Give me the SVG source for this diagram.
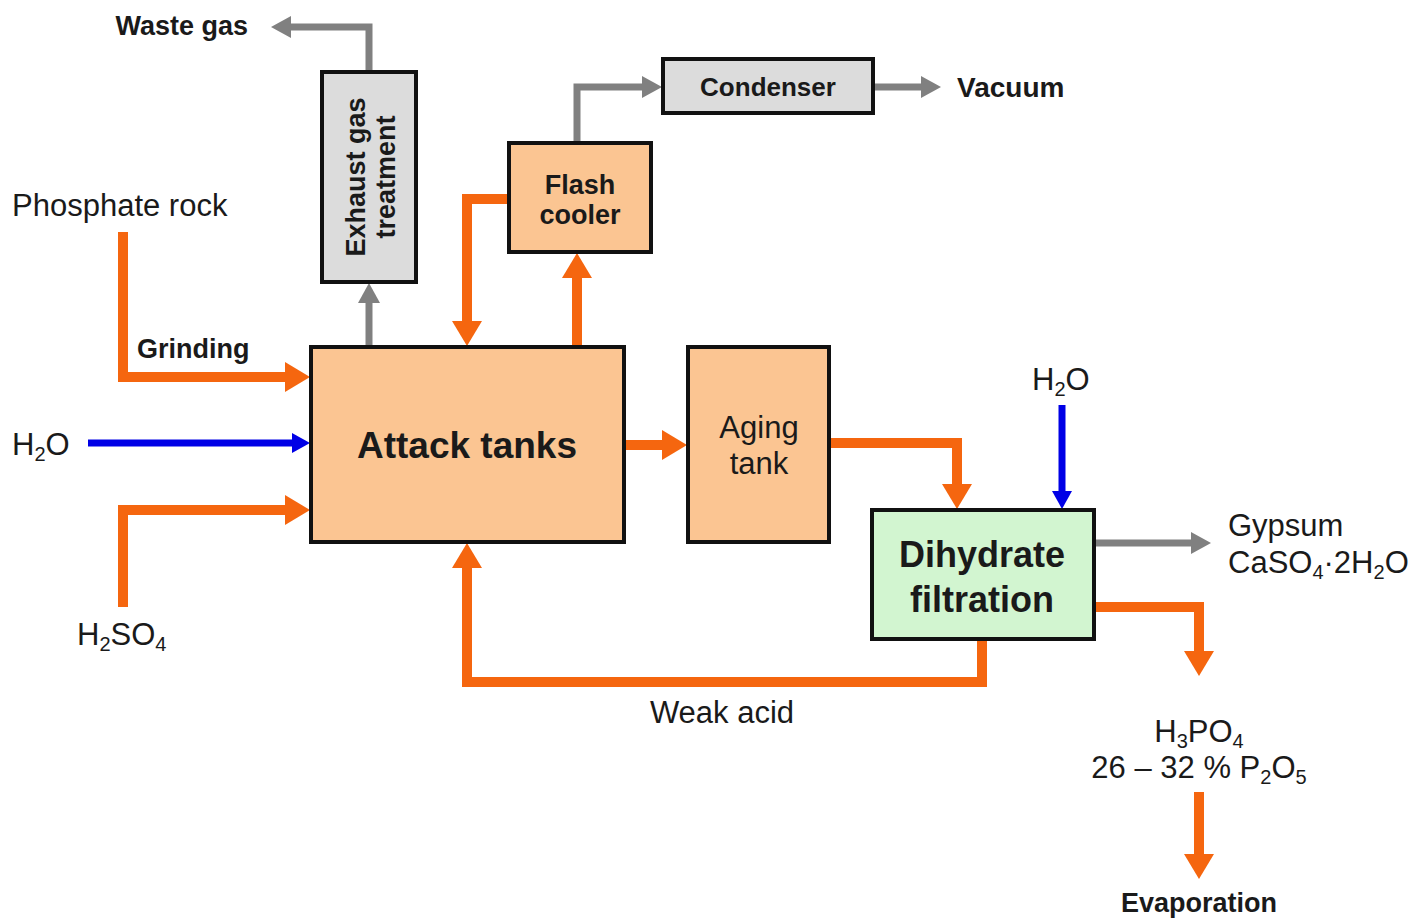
<svg xmlns="http://www.w3.org/2000/svg" width="1418" height="918" viewBox="0 0 1418 918">
<style>
.box{stroke:#111;stroke-width:4}
.peach{fill:#fbc592}
.grey{fill:#dcdcdc}
.green{fill:#d2f5d0}
.o{fill:none;stroke:#f5660f;stroke-width:10}
.g{fill:none;stroke:#808080;stroke-width:7}
.b{fill:none;stroke:#0000e6;stroke-width:7}
text{font-family:"Liberation Sans",Arial,sans-serif;fill:#1a1a1a}
.bd{font-weight:bold}
</style>
<defs>
<marker id="ao" markerUnits="userSpaceOnUse" markerWidth="40" markerHeight="40" refX="1" refY="15" orient="auto" overflow="visible"><path d="M0,0 L25,15 L0,30 z" fill="#f5660f"/></marker>
<marker id="ag" markerUnits="userSpaceOnUse" markerWidth="30" markerHeight="30" refX="1" refY="11" orient="auto" overflow="visible"><path d="M0,0 L20,11 L0,22 z" fill="#808080"/></marker>
<marker id="ab" markerUnits="userSpaceOnUse" markerWidth="30" markerHeight="30" refX="1" refY="10" orient="auto" overflow="visible"><path d="M0,0 L18,10 L0,20 z" fill="#0000e6"/></marker>
</defs>
<rect width="1418" height="918" fill="#fff"/>
<g id="connectors">
<path class="o" d="M123,232 V377 H286" marker-end="url(#ao)"/>
<path class="o" d="M123,607 V510 H286" marker-end="url(#ao)"/>
<path class="o" d="M624,445 H663" marker-end="url(#ao)"/>
<path class="o" d="M829,443 H957 V485" marker-end="url(#ao)"/>
<path class="o" d="M509,199 H467 V322" marker-end="url(#ao)"/>
<path class="o" d="M577,347 V277" marker-end="url(#ao)"/>
<path class="o" d="M1094,607 H1199 V652" marker-end="url(#ao)"/>
<path class="o" d="M1199,792 V855" marker-end="url(#ao)"/>
<path class="o" d="M982,639 V682 H467 V567" marker-end="url(#ao)"/>
<path class="g" d="M369,347 V302" marker-end="url(#ag)"/>
<path class="g" d="M369,72 V27 H290" marker-end="url(#ag)"/>
<path class="g" d="M577,143 V87 H643" marker-end="url(#ag)"/>
<path class="g" d="M873,87 H922" marker-end="url(#ag)"/>
<path class="g" d="M1094,543 H1192" marker-end="url(#ag)"/>
<path class="b" d="M88,443 H293" marker-end="url(#ab)"/>
<path class="b" d="M1062,405 V492" marker-end="url(#ab)"/>
</g>
<g id="exhaust">
<rect class="box grey" x="322" y="72" width="94" height="210"/>
<text class="bd" font-size="27" text-anchor="middle" transform="translate(365,177) rotate(-90)"><tspan x="0" y="0">Exhaust gas</tspan><tspan x="0" y="30">treatment</tspan></text>
</g>
<g id="condenser">
<rect class="box grey" x="663" y="59" width="210" height="54"/>
<text class="bd" font-size="26" x="768" y="96" text-anchor="middle">Condenser</text>
</g>
<g id="flash">
<rect class="box peach" x="509" y="143" width="142" height="109"/>
<text class="bd" font-size="27" text-anchor="middle"><tspan x="580" y="194">Flash</tspan><tspan x="580" y="224">cooler</tspan></text>
</g>
<g id="attack">
<rect class="box peach" x="311" y="347" width="313" height="195"/>
<text class="bd" font-size="37" x="467" y="458" text-anchor="middle">Attack tanks</text>
</g>
<g id="aging">
<rect class="box peach" x="688" y="347" width="141" height="195"/>
<text font-size="31" text-anchor="middle"><tspan x="759" y="438">Aging</tspan><tspan x="759" y="474">tank</tspan></text>
</g>
<g id="dihydrate">
<rect class="box green" x="872" y="510" width="222" height="129"/>
<text class="bd" font-size="36" text-anchor="middle"><tspan x="982" y="567">Dihydrate</tspan><tspan x="982" y="612">filtration</tspan></text>
</g>
<g id="labels">
<text class="bd" font-size="27" x="248" y="35" text-anchor="end">Waste gas</text>
<text class="bd" font-size="28" x="957" y="97">Vacuum</text>
<text font-size="31" x="12" y="216">Phosphate rock</text>
<text class="bd" font-size="27" x="137" y="358">Grinding</text>
<text font-size="31" x="12" y="455">H<tspan font-size="20" dy="6">2</tspan><tspan dy="-6">O</tspan></text>
<text font-size="31" x="77" y="645">H<tspan font-size="20" dy="6">2</tspan><tspan dy="-6">SO</tspan><tspan font-size="20" dy="6">4</tspan></text>
<text font-size="31" x="1032" y="390">H<tspan font-size="20" dy="6">2</tspan><tspan dy="-6">O</tspan></text>
<text font-size="31" x="1228" y="536">Gypsum</text>
<text font-size="31" x="1228" y="573">CaSO<tspan font-size="20" dy="6">4</tspan><tspan dy="-6">·2H</tspan><tspan font-size="20" dy="6">2</tspan><tspan dy="-6">O</tspan></text>
<text font-size="31" x="722" y="723" text-anchor="middle">Weak acid</text>
<text font-size="31" x="1199" y="742" text-anchor="middle">H<tspan font-size="20" dy="6">3</tspan><tspan dy="-6">PO</tspan><tspan font-size="20" dy="6">4</tspan></text>
<text font-size="31" x="1199" y="778" text-anchor="middle">26 – 32 % P<tspan font-size="20" dy="6">2</tspan><tspan dy="-6">O</tspan><tspan font-size="20" dy="6">5</tspan></text>
<text class="bd" font-size="27" x="1199" y="912" text-anchor="middle">Evaporation</text>
</g>
</svg>
